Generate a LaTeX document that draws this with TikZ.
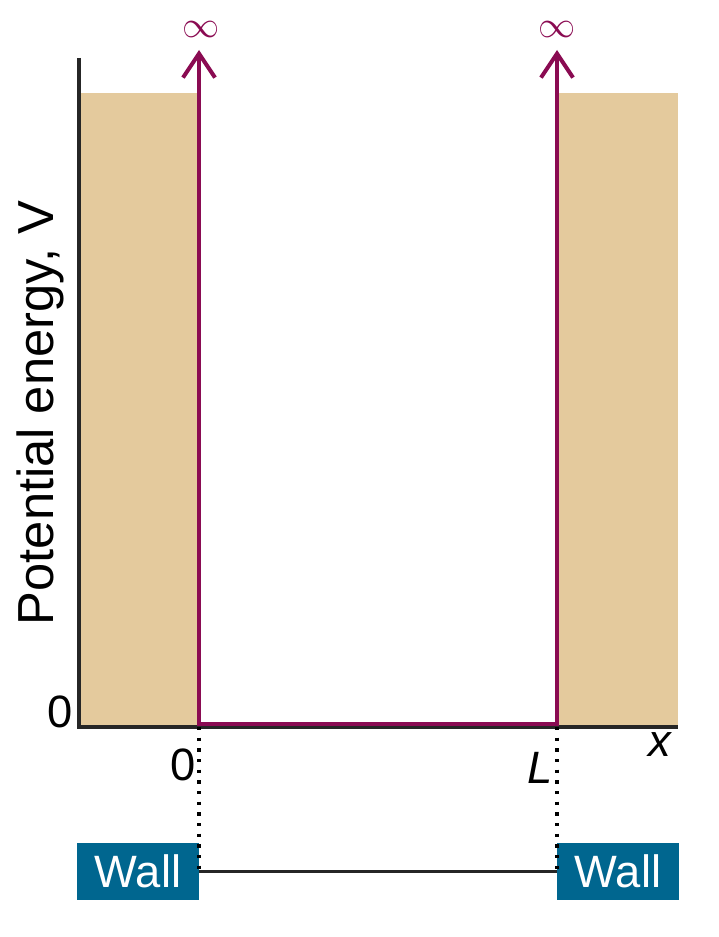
\documentclass[tikz,border=0pt]{standalone}
\usepackage{fontspec}
\setmainfont{Liberation Sans}
\usetikzlibrary{arrows.meta,positioning}
\definecolor{wallfill}{HTML}{E4CA9D}
\definecolor{wellline}{HTML}{8A0B52}
\definecolor{wallblue}{HTML}{00668F}
\tikzset{
	axis/.style={line width=3pt, draw=black!85},
	well/.style={line width=3pt, draw=wellline},
	wallbox/.style={rectangle, fill=wallblue, text=white, minimum width=91pt, minimum height=43pt, inner sep=0pt, font=\fontsize{34}{34}\selectfont},
	lbl/.style={inner sep=0pt, font=\fontsize{34}{34}\selectfont},
	guide/.style={line width=2.6pt, dash pattern=on 2.6pt off 5.4pt}
}
\begin{document}
\begin{tikzpicture}[x=0.75pt, y=-0.75pt]
				\useasboundingbox (0,0) rectangle (718,937);
				\fill[wallfill] (79,93) rectangle (199,727);
				\fill[wallfill] (557,93) rectangle (678,727);
				
				\coordinate (orig) at (79,727);
				\coordinate (ytop) at (79,58);
				\coordinate (xend) at (678,727);
				\coordinate (left) at (199,727);
				\coordinate (right) at (557,727);
				\coordinate (lefttop) at (199,50);
				\coordinate (righttop) at (557,50);
				
				\draw[axis] (ytop) -- (orig) -- (xend);
				\draw[well, {Straight Barb[length=18pt, width=24pt]}-{Straight Barb[length=18pt, width=24pt]}]
				(lefttop) -- (199,724) -- (557,724) -- (righttop);
				
				\node[lbl, text=wellline] (infl) at (201,30) {\scalebox{1.12}{$\infty$}};
				\node[lbl, text=wellline] (infr) at (557,30) {\scalebox{1.12}{$\infty$}};
				\node[lbl] (vzero) at (60,712) {0};
				\node[lbl] (xzero) at (183,765) {0};
				\node[lbl] (lpos) at (540,768) {\textit{L}};
				\node[lbl] (xlab) at (660,745) {\textit{x}};
				\node[lbl, rotate=90, font=\fontsize{38}{38}\selectfont] (vlab) at (40,413) {Potential energy, V};
				
				\node[wallbox, anchor=east] (wallL) at (199,871.5) {Wall};
				\node[wallbox, anchor=west] (wallR) at (557,871.5) {Wall};
				
				\draw[line width=2pt, black!85] (wallL.east) -- (wallR.west);
				\draw[guide] (left) -- (wallL.east);
				\draw[guide] (right) -- (wallR.west);
				\end{tikzpicture}
\end{document}
